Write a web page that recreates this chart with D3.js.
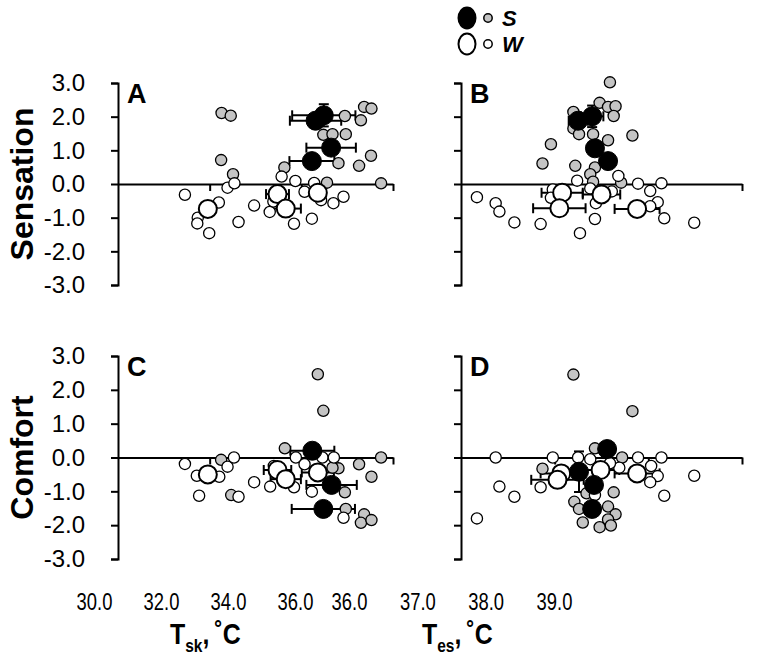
<!DOCTYPE html>
<html><head><meta charset="utf-8">
<script src="https://cdn.jsdelivr.net/npm/d3@7"></script>
<style>
body{margin:0;background:#fff}
svg{display:block}
text{font-family:"Liberation Sans",Arial,Helvetica,sans-serif;fill:#000}
</style></head>
<body><svg id="c" width="767" height="658"></svg>
<script>
// ---------- data ----------
const yTicks = [-3, -2, -1, 0, 1, 2, 3];
const skTicks = [30, 32, 34, 36];
const esTicks = [36, 37, 38, 39];
const panelLetters = ["A", "B", "C", "D"];
const rowTitles = ["Sensation", "Comfort"];
const legendLabels = ["S", "W"];

// individual values [x, y]
const sensSkS = [[32.26,2.11],[32.46,2.03],[32.25,0.71],[32.51,0.29],[35.37,2.29],[35.53,2.24],[34.95,2.02],[35.30,1.89],[34.48,1.46],[34.68,1.48],[34.97,1.48],[35.52,0.84],[34.81,0.62],[35.26,0.54],[33.63,0.49],[34.56,0.04],[35.74,0.02]];
const sensSkW = [[31.46,-0.32],[31.74,-1.00],[31.73,-1.17],[31.99,-1.46],[32.20,-0.55],[32.39,-0.11],[32.54,0.02],[32.63,-1.13],[32.97,-0.64],[33.31,-0.83],[33.39,-0.52],[33.57,0.22],[33.84,-1.18],[33.87,0.09],[34.07,-0.23],[34.23,-1.03],[34.28,0.03],[34.43,-0.48],[34.70,-0.57],[34.92,-0.38]];
const sensEsS = [[37.59,3.02],[37.48,2.41],[37.57,2.29],[37.65,2.31],[37.63,2.02],[37.20,2.14],[37.20,1.65],[37.26,1.48],[37.41,1.48],[37.57,1.30],[37.83,1.44],[36.96,1.18],[36.87,0.61],[37.22,0.54],[37.43,0.49],[37.38,0.29],[37.71,0.04],[37.41,0.07]];
const sensEsW = [[36.17,-0.39],[36.37,-0.57],[36.41,-0.82],[36.57,-1.14],[36.85,-1.19],[37.27,-1.46],[37.43,-1.04],[37.24,0.10],[36.98,-0.16],[36.96,-0.41],[37.38,-0.13],[37.44,-0.57],[37.61,-0.22],[37.68,0.24],[37.89,0.01],[38.02,-0.21],[38.14,0.02],[38.10,-0.54],[38.02,-0.66],[38.17,-1.02],[38.49,-1.15]];
const comfSkS = [[34.36,2.46],[34.48,1.38],[33.64,0.27],[35.74,0.00],[35.26,-0.20],[35.53,-0.57],[34.81,-0.32],[34.95,-1.03],[34.97,-1.52],[35.37,-1.68],[35.30,-1.93],[35.53,-1.85],[32.25,-0.07],[32.47,-1.11],[34.68,-0.30]];
const comfSkW = [[31.46,-0.19],[31.72,-0.54],[31.77,-1.13],[32.21,-0.57],[32.39,-0.27],[32.53,0.00],[32.63,-1.16],[32.97,-0.73],[33.32,-0.86],[33.40,-0.25],[33.84,-0.88],[33.88,0.00],[34.07,-0.20],[34.23,-1.01],[34.46,0.00],[34.71,0.00],[34.92,-1.78]];
const comfEsS = [[37.20,2.45],[37.83,1.37],[37.43,0.27],[37.72,0.00],[36.87,-0.33],[37.63,-1.03],[37.21,-1.31],[37.26,-1.52],[37.57,-1.45],[37.65,-1.68],[37.57,-1.83],[37.30,-1.92],[37.48,-2.06],[37.60,-2.01],[37.34,-1.06]];
const comfEsW = [[36.17,-1.80],[36.37,0.00],[36.41,-0.86],[36.57,-1.16],[36.85,-0.88],[36.98,0.00],[37.25,0.00],[37.38,-0.05],[37.69,-0.30],[37.89,0.00],[38.14,0.00],[38.03,-0.25],[38.10,-0.55],[38.02,-0.73],[38.17,-1.13],[38.49,-0.54],[37.43,-1.11],[37.59,-0.17]];

// group means [x, y, xErr, yErr]
const sensSkSMean = [[34.31,1.88,0.56,0.1],[34.49,2.04,0.69,0.33],[34.65,1.08,0.54,0.1],[34.23,0.68,0.49,0.1]];
const sensSkWMean = [[31.96,-0.74,0.1,0.1],[33.48,-0.30,0.25,0.1],[33.66,-0.73,0.33,0.1],[34.36,-0.26,0.15,0.1]];
const sensEsSMean = [[37.25,1.88,0.1,0.1],[37.40,2.01,0.12,0.32],[37.43,1.06,0.05,0.1],[37.57,0.68,0.05,0.1]];
const sensEsWMean = [[37.08,-0.26,0.22,0.1],[37.50,-0.31,0.2,0.1],[37.05,-0.72,0.28,0.1],[37.88,-0.74,0.24,0.1]];
const comfSkSMean = [[34.24,0.20,0.48,0.1],[34.66,-0.81,0.55,0.1],[34.48,-1.52,0.69,0.1]];
const comfSkWMean = [[31.96,-0.50,0.1,0.1],[33.48,-0.37,0.3,0.1],[33.66,-0.64,0.33,0.1],[34.36,-0.44,0.35,0.1]];
const comfEsSMean = [[37.26,-0.42,0.05,0.6],[37.42,-0.81,0.05,0.1],[37.40,-1.52,0.05,0.1],[37.56,0.25,0.05,0.1]];
const comfEsWMean = [[37.07,-0.47,0.22,0.1],[37.03,-0.66,0.28,0.1],[37.49,-0.37,0.2,0.1],[37.88,-0.47,0.24,0.1]];

// ---------- layout ----------
const svg = d3.select("#c");
const GREY = "#c4c4c4";
const rowY = [[285, 83], [559, 356]];
const colX = [[118, 393], [461, 742]];
const colTicks = [skTicks, esTicks];

const panels = [
  {letter: panelLetters[0], col: 0, row: 0, s: sensSkS, w: sensSkW, sm: sensSkSMean, wm: sensSkWMean},
  {letter: panelLetters[1], col: 1, row: 0, s: sensEsS, w: sensEsW, sm: sensEsSMean, wm: sensEsWMean},
  {letter: panelLetters[2], col: 0, row: 1, s: comfSkS, w: comfSkW, sm: comfSkSMean, wm: comfSkWMean},
  {letter: panelLetters[3], col: 1, row: 1, s: comfEsS, w: comfEsW, sm: comfEsSMean, wm: comfEsWMean}
];

function styleAxis(sel) {
  sel.selectAll("path,line").attr("stroke", "#000").attr("stroke-width", 2);
  sel.selectAll("text").attr("font-size", 24).attr("fill", "#000");
}

panels.forEach(p => {
  const ticks = colTicks[p.col];
  const x = d3.scaleLinear().domain([ticks[0], ticks[ticks.length - 1]]).range(colX[p.col]);
  const y = d3.scaleLinear().domain([yTicks[0], yTicks[yTicks.length - 1]]).range(rowY[p.row]);
  const g = svg.append("g");

  const ya = d3.axisLeft(y).tickValues(yTicks).tickSize(7).tickSizeOuter(7).tickPadding(26)
    .tickFormat(p.col === 0 ? (d => d.toFixed(1)) : (() => ""));
  g.append("g").attr("transform", `translate(${x.range()[0]},0)`).call(ya).call(styleAxis);

  const xa = d3.axisBottom(x).tickValues(ticks.slice(1)).tickSize(7).tickSizeOuter(0).tickFormat(() => "");
  g.append("g").attr("transform", `translate(0,${y(0)})`).call(xa).call(styleAxis);

  g.append("text").attr("x", x.range()[0] + 9).attr("y", y(3) + 20)
    .attr("font-size", 27).attr("font-weight", "bold").text(p.letter);

  // error bars
  const allMeans = p.wm.concat(p.sm);
  const eb = g.append("g").attr("stroke", "#000").attr("stroke-width", 2);
  allMeans.forEach(d => {
    const cx = x(d[0]), cy = y(d[1]);
    const x0 = x(d[0] - d[2]), x1 = x(d[0] + d[2]);
    const y0 = y(d[1] - d[3]), y1 = y(d[1] + d[3]);
    eb.append("line").attr("x1", x0).attr("x2", x1).attr("y1", cy).attr("y2", cy);
    eb.append("line").attr("x1", x0).attr("x2", x0).attr("y1", cy - 5).attr("y2", cy + 5);
    eb.append("line").attr("x1", x1).attr("x2", x1).attr("y1", cy - 5).attr("y2", cy + 5);
    eb.append("line").attr("x1", cx).attr("x2", cx).attr("y1", y0).attr("y2", y1);
    eb.append("line").attr("x1", cx - 5).attr("x2", cx + 5).attr("y1", y0).attr("y2", y0);
    eb.append("line").attr("x1", cx - 5).attr("x2", cx + 5).attr("y1", y1).attr("y2", y1);
  });

  g.append("g").selectAll("circle").data(p.s).join("circle")
    .attr("cx", d => x(d[0])).attr("cy", d => y(d[1])).attr("r", 5.6)
    .attr("fill", GREY).attr("stroke", "#000").attr("stroke-width", 1.3);
  g.append("g").selectAll("circle").data(p.w).join("circle")
    .attr("cx", d => x(d[0])).attr("cy", d => y(d[1])).attr("r", 5.6)
    .attr("fill", "#fff").attr("stroke", "#000").attr("stroke-width", 1.3);
  g.append("g").selectAll("circle").data(p.wm).join("circle")
    .attr("cx", d => x(d[0])).attr("cy", d => y(d[1])).attr("r", 9)
    .attr("fill", "#fff").attr("stroke", "#000").attr("stroke-width", 2);
  g.append("g").selectAll("circle").data(p.sm).join("circle")
    .attr("cx", d => x(d[0])).attr("cy", d => y(d[1])).attr("r", 9.5)
    .attr("fill", "#000").attr("stroke", "#000").attr("stroke-width", 1);
});

// row titles
rowTitles.forEach((t, i) => {
  const zero = d3.scaleLinear().domain([-3, 3]).range(rowY[i])(0);
  svg.append("text").attr("transform", `translate(33,${zero}) rotate(-90)`)
    .attr("text-anchor", "middle").attr("font-size", 32).attr("font-weight", "bold").text(t);
});

// bottom tick labels (separate label strip as in the original figure)
const lblScales = [
  d3.scaleLinear().domain([30, 36]).range([94, 295]),
  d3.scaleLinear().domain([36, 39]).range([349, 554])
];
lblScales.forEach((s, i) => {
  const ag = svg.append("g").attr("transform", "translate(0,594)")
    .call(d3.axisBottom(s).tickValues(colTicks[i]).tickSize(0).tickPadding(0).tickFormat(d => d.toFixed(1)));
  ag.select(".domain").remove();
  ag.selectAll("text").attr("font-size", 23).attr("fill", "#000").attr("transform", "scale(0.8,1)");
});

// axis titles
const titles = [{x: 170, main: "T", sub: "sk"}, {x: 422, main: "T", sub: "es"}];
titles.forEach(t => {
  const tx = svg.append("text").attr("transform", `translate(${t.x},644) scale(0.86,1)`)
    .attr("font-size", 29).attr("font-weight", "bold");
  tx.append("tspan").text(t.main);
  tx.append("tspan").attr("font-size", 18).attr("dy", 8).text(t.sub);
  tx.append("tspan").attr("dy", -8).text(",");
  tx.append("tspan").attr("dx", 6).text("˚C");
});

// legend
const lg = svg.append("g");
[[18, "#000", GREY], [44, "#fff", "#fff"]].forEach((r, i) => {
  lg.append("ellipse").attr("cx", 467).attr("cy", r[0]).attr("rx", 8.5).attr("ry", 10.5)
    .attr("fill", r[1]).attr("stroke", "#000").attr("stroke-width", 2);
  lg.append("circle").attr("cx", 488).attr("cy", r[0]).attr("r", 4.2)
    .attr("fill", r[2]).attr("stroke", "#000").attr("stroke-width", 1.5);
  lg.append("text").attr("x", 502).attr("y", r[0] + 8).attr("font-size", 22)
    .attr("font-weight", "bold").attr("font-style", "italic").text(legendLabels[i]);
});
</script>
</body></html>
